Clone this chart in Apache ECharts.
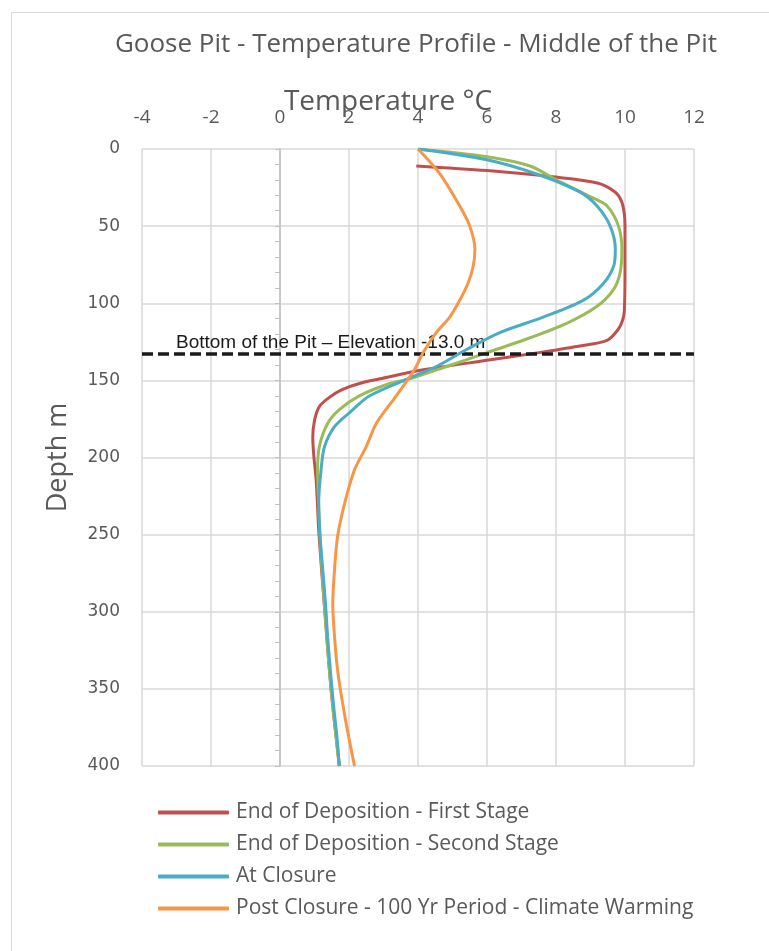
<!DOCTYPE html>
<html>
<head>
<meta charset="utf-8">
<script src="https://cdn.jsdelivr.net/npm/echarts@6/dist/echarts.min.js"></script>
<style>
html,body{margin:0;padding:0;background:#fff;}
#chart{width:769px;height:951px;}
</style>
</head>
<body>
<div id="chart"></div>
<script>
const seriesNames = [
  'End of Deposition - First Stage',
  'End of Deposition - Second Stage',
  'At Closure',
  'Post Closure - 100 Yr Period - Climate Warming'
];
const depthRed = [11, 14, 18, 22, 28, 34, 42, 50, 80, 105, 111, 117, 124, 128, 132, 137, 143, 149, 152, 156, 161, 167, 176, 187, 199, 215, 250, 300, 350, 400];
const tempRed  = [3.95, 6.0, 7.9, 9.2, 9.72, 9.9, 9.98, 10.0, 10.0, 9.98, 9.93, 9.8, 9.48, 8.6, 7.5, 6.0, 4.2, 2.9, 2.3, 1.8, 1.43, 1.14, 1.0, 0.95, 0.98, 1.05, 1.13, 1.3, 1.48, 1.72];
const depthGreen = [0, 5, 11, 20, 31, 37, 50, 65, 80, 91, 102, 113, 124, 132, 141, 149, 152, 160, 169, 178, 193, 208, 230, 260, 300, 350, 400];
const tempGreen  = [4.0, 6.0, 7.25, 8.0, 9.0, 9.48, 9.81, 9.91, 9.86, 9.67, 9.19, 8.31, 7.05, 6.0, 4.83, 3.76, 3.18, 2.3, 1.72, 1.38, 1.14, 1.09, 1.12, 1.18, 1.3, 1.48, 1.72];
const depthBlue = [0, 7, 17, 28, 37, 50, 65, 76, 87, 98, 109, 119, 130, 141, 149, 160, 171, 180, 193, 208, 230, 251, 273, 295, 316, 338, 360, 381, 400];
const tempBlue  = [4.0, 6.0, 7.54, 8.7, 9.19, 9.57, 9.72, 9.67, 9.38, 8.80, 7.63, 6.37, 5.41, 4.53, 3.7, 2.6, 2.01, 1.58, 1.29, 1.19, 1.12, 1.16, 1.24, 1.32, 1.38, 1.46, 1.55, 1.65, 1.72];
const depthOrange = [0, 16, 37, 50, 65, 76, 87, 98, 109, 119, 132, 143, 149, 160, 178, 193, 208, 230, 251, 273, 295, 316, 338, 360, 381, 400];
const tempOrange  = [4.0, 4.63, 5.21, 5.5, 5.65, 5.6, 5.45, 5.21, 4.92, 4.53, 4.15, 3.9, 3.72, 3.37, 2.79, 2.5, 2.16, 1.87, 1.67, 1.58, 1.53, 1.58, 1.67, 1.82, 1.99, 2.16];
const xTicks = [-4, -2, 0, 2, 4, 6, 8, 10, 12];
const yTicks = [0, 50, 100, 150, 200, 250, 300, 350, 400];
const pitBottomDepth = 133;
const pitBottomLabel = 'Bottom of the Pit \u2013 Elevation -13.0 m';

const colors = ['#C0504D', '#9BBB59', '#4BACC6', '#F79646'];
const pair = (t, d) => t.map((v, i) => [v, d[i]]);
const datasets = [pair(tempRed, depthRed), pair(tempGreen, depthGreen), pair(tempBlue, depthBlue), pair(tempOrange, depthOrange)];

const chart = echarts.init(document.getElementById('chart'));
const gray = '#595959';
const series = datasets.map((d, i) => ({
  name: seriesNames[i],
  type: 'line',
  data: d,
  showSymbol: false,
  symbol: 'none',
  smooth: 0.3,
  lineStyle: { width: 3, color: colors[i] },
  itemStyle: { color: colors[i] },
  z: 3 + i,
  animation: false
}));
series[0].markLine = {
  silent: true,
  symbol: ['none', 'none'],
  lineStyle: { color: '#1a1a1a', type: [11, 5], width: 3.5 },
  label: {
    show: true,
    position: 'insideStartTop',
    formatter: pitBottomLabel,
    color: '#1a1a1a',
    fontFamily: 'Liberation Sans',
    fontSize: 19,
    padding: [0, 0, 0, 32],
    distance: 2
  },
  data: [{ yAxis: pitBottomDepth }],
  animation: false
};

chart.setOption({
  animation: false,
  backgroundColor: '#fff',
  graphic: [{
    type: 'rect', left: 9, top: 10, shape: { width: 820, height: 1000 },
    style: { fill: 'none', stroke: '#d9d9d9', lineWidth: 1 }, silent: true
  }],
  title: {
    text: 'Goose Pit - Temperature Profile - Middle of the Pit',
    left: 411, top: 27, textAlign: 'center',
    textStyle: { fontFamily: 'Open Sans', fontSize: 26, fontWeight: 'normal', color: gray }
  },
  legend: {
    orient: 'vertical',
    left: 153, top: 797,
    icon: 'roundRect',
    itemWidth: 71, itemHeight: 4, itemGap: 11,
    textStyle: { fontFamily: 'Open Sans', fontSize: 21, color: gray, padding: [0, 0, 0, 2] },
    data: seriesNames
  },
  grid: { left: 142, top: 149, width: 552, height: 617, containLabel: false },
  xAxis: {
    type: 'value', position: 'top', min: -4, max: 12, interval: 2,
    name: 'Temperature \u00B0C', nameLocation: 'middle', nameGap: 33, nameMoveOverlap: false,
    nameTextStyle: { fontFamily: 'Open Sans', fontSize: 28, color: gray, padding: [0, 60, 0, 0] },
    axisLine: { show: false, onZero: false },
    axisTick: { show: false },
    axisLabel: { fontFamily: 'Open Sans', fontSize: 19, color: gray, margin: 22,
      formatter: v => xTicks.includes(v) ? String(v) : '' },
    splitLine: { show: true, lineStyle: { color: '#d9d9d9', width: 1.5 } }
  },
  yAxis: [{
    type: 'value', inverse: true, min: 0, max: 400, interval: 50, position: 'left',
    name: 'Depth m', nameLocation: 'middle', nameGap: 70, nameRotate: 90, nameMoveOverlap: false,
    nameTextStyle: { fontFamily: 'Open Sans', fontSize: 27, color: gray },
    axisLine: { show: false, onZero: false },
    axisTick: { show: false },
    axisLabel: { fontFamily: 'DejaVu Sans', fontSize: 17, color: gray, margin: 22,
      formatter: v => yTicks.includes(v) ? String(v) : '' },
    splitLine: { show: true, lineStyle: { color: '#d9d9d9', width: 1.5 } }
  }, {
    type: 'value', inverse: true, min: 0, max: 400, interval: 10, position: 'left',
    axisLine: { show: true, onZero: true, lineStyle: { color: '#bfbfbf', width: 1.5 } },
    axisTick: { show: true, length: 5, lineStyle: { color: '#bfbfbf' } },
    axisLabel: { show: false },
    splitLine: { show: false }
  }],
  series: series
});
</script>
</body>
</html>
